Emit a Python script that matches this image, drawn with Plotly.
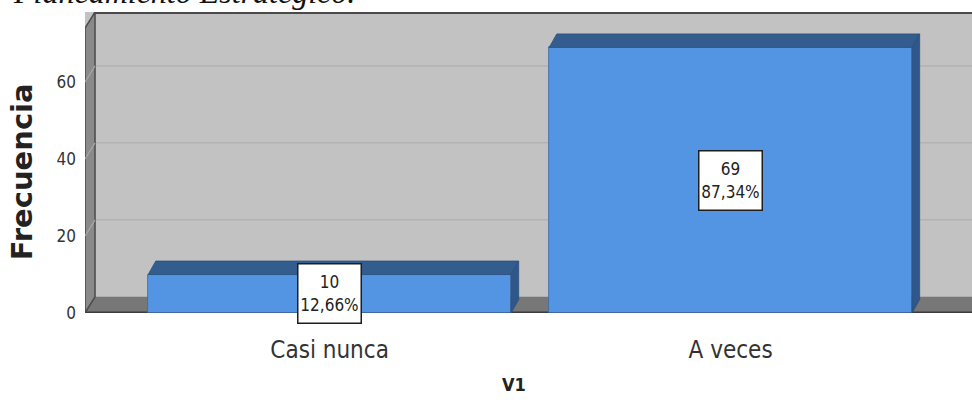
import plotly.graph_objects as go

# ---- data ----
categories = ["Casi nunca", "A veces"]
frequencies = [10, 69]
percent_labels = ["12,66%", "87,34%"]
y_tick_values = [0, 20, 40, 60]
x_title = "V1"
y_title = "Frecuencia"
top_text = "Planeamiento Estratégico."

# ---- style / geometry ----
NARROW = "Liberation Sans Narrow, Arial Narrow, DejaVu Sans Condensed, sans-serif"
BAR_FRONT = "#5495e3"
BAR_TOP = "#345d8f"
BAR_SIDE = "#30578a"
WALL = "#c2c2c2"
XMIN, XMAX = -0.61, 1.602
YMAX = 78.2
BAR_W = 0.905
BDX, BDY = 0.019, 3.5      # bar depth offset (data units)
WDX, WDY = 0.025, 4.2      # wall depth offset (data units)

xpos = list(range(len(categories)))

fig = go.Figure()

# front faces
fig.add_trace(go.Bar(
    x=xpos, y=frequencies, width=BAR_W,
    marker=dict(color=BAR_FRONT, line=dict(color="#3a6aa5", width=0.8)),
    hoverinfo="skip", showlegend=False,
))

# top and side faces derived from the bar values
for xc, v in zip(xpos, frequencies):
    l, r = xc - BAR_W / 2, xc + BAR_W / 2
    fig.add_trace(go.Scatter(
        x=[l, l + BDX, r + BDX, r, l], y=[v, v + BDY, v + BDY, v, v],
        fill="toself", fillcolor=BAR_TOP, mode="lines",
        line=dict(color="#2b4f7c", width=0.8), hoverinfo="skip", showlegend=False,
    ))
    fig.add_trace(go.Scatter(
        x=[r, r, r + BDX, r + BDX, r], y=[0, v, v + BDY, BDY, 0],
        fill="toself", fillcolor=BAR_SIDE, mode="lines",
        line=dict(color="#2b4f7c", width=0.8), hoverinfo="skip", showlegend=False,
    ))

shapes = []
# back-wall grid lines (shifted back by the wall depth)
for v in y_tick_values[1:]:
    shapes.append(dict(type="line", xref="x", yref="y", layer="below",
                       x0=XMIN + WDX, x1=XMAX, y0=v + WDY, y1=v + WDY,
                       line=dict(color="#b2b2b2", width=1.5)))
# floor
shapes.append(dict(type="path", xref="x", yref="y", layer="below",
                   path=f"M {XMIN},0 L {XMIN + WDX},{WDY} L {XMAX},{WDY} L {XMAX},0 Z",
                   fillcolor="#777777", line=dict(width=0)))
shapes.append(dict(type="line", xref="x", yref="y", layer="below",
                   x0=XMIN, x1=XMAX, y0=0.15, y1=0.15,
                   line=dict(color="#3a3a3a", width=2)))
# left wall
shapes.append(dict(type="path", xref="x", yref="y", layer="below",
                   path=f"M {XMIN},0 L {XMIN},{YMAX - WDY} L {XMIN + WDX},{YMAX} L {XMIN + WDX},{WDY} Z",
                   fillcolor="#8a8a8a", line=dict(color="#4a4a4a", width=1.5)))
# slanted tick marks on the left wall
for v in y_tick_values[1:]:
    shapes.append(dict(type="line", xref="x", yref="y", layer="below",
                       x0=XMIN, x1=XMIN + WDX, y0=v, y1=v + WDY,
                       line=dict(color="#a8a8a8", width=1.2)))
# top edge of back wall
shapes.append(dict(type="line", xref="x", yref="y", layer="below",
                   x0=XMIN + WDX, x1=XMAX, y0=YMAX - 0.2, y1=YMAX - 0.2,
                   line=dict(color="#4a4a4a", width=2.5)))

annotations = []
# value labels in white boxes, centred on each bar's front face
for xc, v, p in zip(xpos, frequencies, percent_labels):
    annotations.append(dict(
        x=xc, y=v / 2, xref="x", yref="y", text=f"{v}<br>{p}", showarrow=False,
        font=dict(family=NARROW, size=17, color="#222222"),
        bgcolor="white", bordercolor="#1e1e1e", borderwidth=1.5, borderpad=0,
        width=62, height=58, align="center", valign="middle",
    ))
# y-axis title
annotations.append(dict(
    x=-0.071, y=0.468, xref="paper", yref="paper", text=f"<b>{y_title}</b>",
    showarrow=False, textangle=-90,
    font=dict(family="DejaVu Sans, sans-serif", size=29, color="#222222"),
    xanchor="center", yanchor="middle",
))
# x-axis title
annotations.append(dict(
    x=0.4836, y=-0.239, xref="paper", yref="paper", text=f"<b>{x_title}</b>",
    showarrow=False, font=dict(family=NARROW, size=18, color="#222222"),
    xanchor="center", yanchor="middle",
))
# heading text cut off at the top of the picture (as in the reference)
annotations.append(dict(
    x=(11 - 85) / 887, y=1.068, xref="paper", yref="paper", text=f"<i>{top_text}</i>",
    showarrow=False, font=dict(family="Liberation Serif, Times New Roman, serif", size=32, color="#111111"),
    xanchor="left", yanchor="middle",
))

fig.update_layout(
    width=972, height=405,
    margin=dict(l=85, r=0, t=12, b=92),
    paper_bgcolor="white", plot_bgcolor=WALL,
    shapes=shapes, annotations=annotations,
    bargap=0, showlegend=False,
    xaxis=dict(range=[XMIN, XMAX], tickvals=xpos, ticktext=categories,
               showgrid=False, zeroline=False, showline=False, ticks="",
               tickfont=dict(family=NARROW, size=24, color="#333333"),
               ticklabelstandoff=20, fixedrange=True),
    yaxis=dict(range=[0, YMAX], tickvals=y_tick_values,
               showgrid=False, zeroline=False, showline=False, ticks="",
               tickfont=dict(family=NARROW, size=17, color="#333333"),
               ticklabelstandoff=8, fixedrange=True),
)

# remove the default page margin so the 972x405 figure fills the window exactly
fig.write_html(
    "out.html",
    config={"displayModeBar": False},
    post_script="document.body.style.margin='0';document.body.style.overflow='hidden';",
)
